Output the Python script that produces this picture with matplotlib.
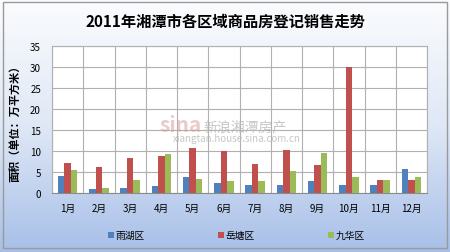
import numpy as np
import matplotlib.pyplot as plt
from matplotlib.colors import LinearSegmentedColormap

plt.rcParams['font.family'] = ['Noto Sans CJK SC', 'DejaVu Sans']

months = ['1月', '2月', '3月', '4月', '5月', '6月', '7月', '8月', '9月', '10月', '11月', '12月']
yuhu = [4.1, 1.0, 1.2, 1.7, 3.9, 2.5, 2.0, 1.9, 2.9, 2.0, 1.8, 5.7]
yuetang = [7.1, 6.3, 8.3, 8.7, 10.7, 9.9, 6.8, 10.3, 6.7, 30.0, 3.2, 3.0]
jiuhua = [5.4, 1.2, 3.0, 9.2, 3.3, 2.9, 2.8, 5.2, 9.6, 3.7, 3.2, 3.9]
series_names = ['雨湖区', '岳塘区', '九华区']
colors = ['#4f81bd', '#c0504d', '#9bbb59']

fig = plt.figure(figsize=(4.5, 2.53), dpi=100)

# gradient background
bg = fig.add_axes([0, 0, 1, 1], zorder=-5)
grad = np.linspace(0, 1, 256).reshape(-1, 1)
cmap = LinearSegmentedColormap.from_list('bg', ['#fbfcfe', '#dfe8f6', '#a7bfe8'])
bg.imshow(grad, aspect='auto', cmap=cmap, extent=[0, 1, 0, 1])
bg.add_patch(plt.Rectangle((0.006, 0.015), 0.988, 0.975, fill=False,
                           edgecolor='#9a9a9a', lw=1.0, transform=bg.transAxes))
bg.set_xlim(0, 1)
bg.set_ylim(0, 1)
bg.axis('off')

ax = fig.add_axes([0.1156, 0.2332, 0.8333, 0.581])
ax.set_facecolor('white')
x = np.arange(len(months))
w = 0.21
for i, (vals, name) in enumerate(zip([yuhu, yuetang, jiuhua], series_names)):
    ax.bar(x + (i - 1) * w, vals, width=w, color=colors[i], label=name, zorder=3)

ax.set_xlim(-0.5, len(months) - 0.5)
ax.set_ylim(0, 35)
ax.set_yticks(range(0, 36, 5))
ax.set_xticks(x)
ax.set_xticklabels(months, fontsize=7)
ax.tick_params(axis='y', labelsize=7, length=0, pad=8)
ax.tick_params(axis='x', length=0, pad=7)
ax.set_xticks(np.arange(-0.5, len(months), 1), minor=True)
ax.tick_params(axis='x', which='minor', length=0)
ax.grid(axis='y', color='#b0b0b0', lw=0.8, zorder=0)
ax.grid(axis='x', which='minor', color='#b0b0b0', lw=0.8, zorder=0)
ax.grid(axis='x', which='major', visible=False)
for s in ['top', 'right', 'left']:
    ax.spines[s].set_color('#b0b0b0')
ax.spines['bottom'].set_color('#8a8a8a')
ax.set_ylabel('面积（单位：万平方米）', fontsize=8, fontweight='bold', labelpad=6)

fig.text(0.5, 0.913, '2011年湘潭市各区域商品房登记销售走势', ha='center', va='center',
         fontsize=11, fontweight='bold')

# watermark
fig.text(0.355, 0.478, 'sina', fontsize=15, fontweight='bold', style='italic',
         color='#d9a0a0', alpha=0.55, zorder=1)
fig.text(0.452, 0.482, '新浪湘潭房产', fontsize=10, style='italic', color='#b8b8b8',
         alpha=0.8, zorder=1)
fig.text(0.385, 0.44, 'xiangtan.house.sina.com.cn', fontsize=7, style='italic',
         color='#b8b8b8', alpha=0.8, zorder=1)

fig.legend(loc='center', bbox_to_anchor=(0.525, 0.067), ncol=3, frameon=False,
           fontsize=7, handlelength=0.6, handleheight=0.6, handletextpad=0.2,
           columnspacing=7.5)

fig.savefig('out.png', dpi=100)
